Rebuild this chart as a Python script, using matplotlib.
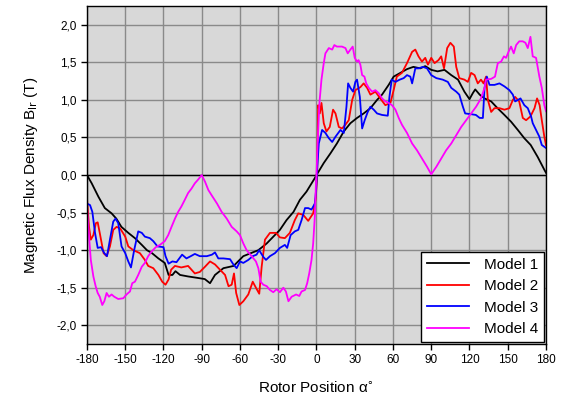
import numpy as np
import matplotlib
matplotlib.use("Agg")
import matplotlib.pyplot as plt

plt.rcParams['font.family'] = ['Liberation Sans', 'DejaVu Sans']

# Model 1
m1_angle = [-180, -176.3, -171, -166, -160.7, -157, -153, -147.6, -142.4, -137,
            -133, -129, -124, -119, -116, -113, -110.6, -107, -100.7, -93,
            -87.6, -83.5, -79.6, -73, -65, -57.4, -45.6, -39, -28.7, -23.5,
            -18, -13, -7.8, -1.3,
            0, 5.7, 11, 16, 21.4, 26.6, 31.8, 37, 42.3, 47.5,
            51.4, 56.6, 60.5, 65.8, 71, 76, 81.4, 85.3, 90, 95,
            100.4, 105.7, 111, 116, 120, 122.6, 124.5, 128, 131.8, 137,
            142, 147.4, 152.6, 157.9, 163, 168, 173.5, 178.7, 180]
m1_flux = [0, -0.11, -0.29, -0.44, -0.51, -0.58, -0.69, -0.77, -0.84, -0.93,
           -1.0, -1.04, -1.11, -1.17, -1.33, -1.33, -1.28, -1.33, -1.35, -1.37,
           -1.385, -1.44, -1.33, -1.24, -1.21, -1.08, -1.0, -0.91, -0.73, -0.60,
           -0.49, -0.33, -0.22, -0.04,
           0, 0.16, 0.29, 0.42, 0.58, 0.69, 0.76, 0.82, 0.89, 1.0,
           1.07, 1.2, 1.31, 1.36, 1.41, 1.44, 1.42, 1.45, 1.40, 1.38,
           1.40, 1.33, 1.27, 1.11, 1.01, 1.09, 1.14, 1.07, 1.02, 0.98,
           0.89, 0.80, 0.71, 0.60, 0.49, 0.40, 0.24, 0.07, 0.03]

# Model 2
m2_angle = [-180, -178.4, -177, -175, -173, -171.6, -170, -167, -164.6, -162,
            -159.4, -156.8, -154, -150, -147.6, -143.7, -138.5, -134.6, -132, -128,
            -124, -121, -118.4, -116, -114, -111, -106, -100.7, -95.4, -91.5,
            -87.4, -83.5, -79.6, -75.7, -71.7, -69, -66.5, -64.7, -63, -60.5,
            -57.4, -53.5, -50, -47.5, -44.9, -43, -40.4, -36.5, -31.8, -28.7,
            -24.8, -20.9, -17, -14.3, -10.4, -6.5, -2.6, -0.5, 0.5, 1.3,
            2.6, 3.9, 5.7, 7.8, 10.4, 13, 14.9, 17.5, 20, 22.7,
            25.3, 28, 30.5, 34.4, 37, 39.7, 42.3, 46.2, 50, 54,
            58, 60.5, 63, 67, 71, 75, 77.5, 80, 82.7, 85.3,
            87.4, 90, 92.6, 95.7, 97.8, 100, 102.5, 105, 107.7, 109.6,
            112, 116, 118.7, 121.3, 124, 126.5, 129, 131, 133, 134.4,
            137, 139.6, 143.5, 147.4, 151.3, 154, 155.8, 159, 161.8, 164.4,
            167.8, 171, 173, 175, 176.7, 178.7, 180]
m2_flux = [-0.31, -0.69, -0.86, -0.80, -0.64, -0.63, -0.77, -1.04, -1.08, -0.95,
           -0.73, -0.69, -0.71, -0.82, -0.95, -1.0, -1.04, -1.13, -1.21, -1.24,
           -1.33, -1.42, -1.46, -1.39, -1.26, -1.21, -1.23, -1.21, -1.31, -1.29,
           -1.22, -1.15, -1.19, -1.26, -1.33, -1.48, -1.46, -1.31, -1.57, -1.73,
           -1.68, -1.59, -1.42, -1.50, -1.58, -1.22, -0.86, -0.77, -0.77, -0.83,
           -0.84, -0.77, -0.60, -0.51, -0.53, -0.61, -0.51, -0.30, 0.0, 0.93,
           0.82, 0.96, 0.69, 0.58, 0.64, 0.87, 0.82, 0.64, 0.62, 0.67,
           0.73, 1.0, 1.13, 1.17, 1.22, 1.16, 1.07, 1.11, 1.02, 0.93,
           0.96, 1.13, 1.31, 1.36, 1.49, 1.64, 1.67, 1.58, 1.51, 1.56,
           1.47, 1.56, 1.49, 1.53, 1.58, 1.42, 1.69, 1.76, 1.71, 1.44,
           1.29, 1.27, 1.24, 1.36, 1.33, 1.22, 1.27, 1.22, 1.31, 1.0,
           0.84, 0.89, 0.89, 0.87, 0.89, 1.0, 1.04, 0.98, 0.76, 0.73,
           0.78, 0.89, 1.02, 0.93, 0.73, 0.51, 0.40]

# Model 3
m3_angle = [-180, -177.6, -175.8, -173.7, -171.6, -169, -166.4, -164.3, -162, -159.4,
            -157.6, -155.5, -152.9, -150, -147.6, -145.5, -143, -139.8, -137, -134.6,
            -130.7, -128, -124.7, -120, -118.4, -116, -113, -109.8, -105.4, -102,
            -98.6, -95.4, -91.5, -86, -82, -79.6, -77, -73, -67.8, -65.2,
            -62.6, -60, -57.4, -53.5, -50, -47, -45, -41.7, -39.6, -36.5,
            -32.6, -28.7, -24.8, -23, -20.3, -17, -14.3, -11.7, -9, -6.5,
            -3.9, -1.3, -0.3, 0.5, 1.8, 4.4, 7, 9.7, 12.3, 14.9,
            18.8, 21.4, 23.5, 24.8, 26.6, 28.7, 30.5, 31.8, 34, 35.8,
            37.8, 40.2, 42.3, 44.9, 47.5, 51.4, 55.9, 57.2, 59, 61.9,
            65.3, 68.4, 71, 73.6, 75, 77.5, 80, 83.5, 86.7, 90,
            94, 99, 103, 105.7, 109.6, 112, 114.8, 116.6, 121.3, 125,
            128, 130.5, 131.8, 133.6, 135.7, 139.6, 143.5, 147.4, 151.3, 154,
            155.8, 158, 160, 163, 165.7, 168.3, 169.6, 172.2, 174.8, 176.7,
            180]
m3_flux = [-0.38, -0.40, -0.49, -0.77, -0.97, -0.96, -1.04, -1.08, -0.86, -0.62,
           -0.58, -0.64, -0.95, -1.04, -1.15, -1.23, -1.0, -0.75, -0.77, -0.82,
           -0.84, -0.88, -0.95, -0.96, -1.08, -1.18, -1.15, -1.16, -1.06, -1.11,
           -1.08, -1.05, -1.08, -1.08, -1.06, -1.03, -1.11, -1.11, -1.12, -1.19,
           -1.24, -1.15, -1.17, -1.13, -1.08, -1.06, -1.0, -1.09, -1.13, -1.08,
           -1.04, -0.97, -0.93, -0.97, -0.80, -0.75, -0.73, -0.60, -0.44, -0.44,
           -0.46, -0.38, -0.20, 0.07, 0.42, 0.60, 0.56, 0.49, 0.44, 0.51,
           0.60, 0.56, 0.91, 1.22, 1.16, 1.11, 1.24, 1.27, 1.04, 0.62,
           0.73, 0.84, 0.91, 0.87, 0.82, 0.80, 0.79, 1.04, 1.27, 1.24,
           1.27, 1.29, 1.33, 1.31, 1.22, 1.42, 1.42, 1.44, 1.42, 1.33,
           1.29, 1.27, 1.24, 1.16, 1.11, 1.07, 0.91, 0.82, 0.81, 0.80,
           0.76, 0.76, 1.16, 1.31, 1.20, 1.20, 1.22, 1.18, 1.13, 1.07,
           0.98, 1.0, 1.02, 0.93, 0.89, 0.78, 0.69, 0.60, 0.51, 0.40,
           0.36]

# Model 4
m4_angle = [-180, -178.4, -177, -175, -173.2, -171.6, -170, -168, -166.4, -164.6,
            -162.8, -160.7, -158.6, -155.5, -151.5, -149, -146.3, -144.5, -142.4, -139.8,
            -137, -134.6, -132, -129.4, -126, -122.8, -119, -116.3, -113.7, -111,
            -108.5, -106, -103.3, -100.7, -98, -95.4, -92.8, -90, -87.4, -84.8,
            -82.2, -78, -74.4, -70.4, -66.5, -62.6, -60, -57.4, -54.8, -50.9,
            -47.5, -45.6, -43.8, -41.7, -39, -36.5, -33.9, -31.3, -28.7, -26,
            -24, -22, -19.5, -16, -13.5, -11.7, -9, -7.3, -5.7, -3.9,
            -2.6, -1.3, -0.5, 0.2, 1, 2.3, 3.9, 5.7, 7, 9.7,
            12.3, 14, 16, 20, 22.7, 24.5, 26.6, 28.4, 30, 31.8,
            33, 34.4, 35.8, 37.6, 39, 41, 43.6, 46.2, 48.8, 51.4,
            54, 56.6, 59.2, 61.9, 64.5, 67, 71, 75, 78.8, 82.7,
            86.7, 90, 94, 97.8, 101.7, 105.7, 109.6, 113.5, 117.4, 121.3,
            125.2, 129, 131.8, 133, 137, 140, 142.2, 144.8, 147, 148.7,
            150.6, 152.6, 154.7, 156.6, 159, 161.8, 163.9, 165.7, 167.8, 169.6,
            172.2, 174.8, 176.7, 178.7, 180]
m4_flux = [-0.42, -0.82, -1.13, -1.35, -1.48, -1.57, -1.62, -1.73, -1.68, -1.57,
           -1.62, -1.59, -1.62, -1.65, -1.64, -1.59, -1.55, -1.44, -1.42, -1.33,
           -1.22, -1.17, -1.08, -1.02, -0.96, -0.93, -0.88, -0.80, -0.69, -0.58,
           -0.49, -0.42, -0.33, -0.24, -0.18, -0.11, -0.06, 0.0, -0.09, -0.20,
           -0.27, -0.38, -0.49, -0.58, -0.69, -0.75, -0.80, -0.91, -1.0, -1.08,
           -1.15, -1.24, -1.42, -1.46, -1.48, -1.53, -1.56, -1.52, -1.56, -1.50,
           -1.55, -1.68, -1.62, -1.59, -1.61, -1.55, -1.53, -1.44, -1.31, -1.13,
           -0.91, -0.55, -0.15, 0.10, 0.47, 0.96, 1.27, 1.49, 1.62, 1.69,
           1.67, 1.73, 1.71, 1.71, 1.69, 1.62, 1.67, 1.71, 1.56, 1.51,
           1.53, 1.47, 1.33, 1.31, 1.22, 1.16, 1.11, 1.13, 1.09, 1.02,
           0.98, 0.96, 0.93, 0.87, 0.76, 0.67, 0.56, 0.42, 0.33, 0.22,
           0.11, 0.01, 0.11, 0.22, 0.33, 0.42, 0.53, 0.64, 0.73, 0.82,
           0.91, 1.02, 1.16, 1.27, 1.28, 1.31, 1.49, 1.51, 1.58, 1.56,
           1.64, 1.71, 1.62, 1.73, 1.78, 1.78, 1.76, 1.69, 1.84, 1.58,
           1.56, 1.31, 1.16, 0.93, 0.85]

x_ticks = [-180, -150, -120, -90, -60, -30, 0, 30, 60, 90, 120, 150, 180]
y_ticks = [-2.0, -1.5, -1.0, -0.5, 0.0, 0.5, 1.0, 1.5, 2.0]
y_tick_labels = ['-2,0', '-1,5', '-1,0', '-0,5', '0,0', '0,5', '1,0', '1,5', '2,0']

series = [
    ('Model 1', m1_angle, m1_flux, 'black'),
    ('Model 2', m2_angle, m2_flux, '#ff0000'),
    ('Model 3', m3_angle, m3_flux, '#0000ff'),
    ('Model 4', m4_angle, m4_flux, '#ff00ff'),
]

fig = plt.figure(figsize=(5.63, 4.01), dpi=100)
ax = fig.add_axes([0.1545, 0.142, 0.8153, 0.843])
ax.set_facecolor('#d8d8d8')

# grid at major ticks, zero line in black
ax.grid(True, color='#8a8a8a', linewidth=1.0, zorder=0)
ax.set_axisbelow(True)
ax.axhline(0, color='black', linewidth=1.0, zorder=1)

for name, ang, flux, col in series:
    assert len(ang) == len(flux), name
    ax.plot(np.array(ang), np.array(flux), color=col, linewidth=1.3, label=name, zorder=2)

ax.set_xlim(-180, 180)
ax.set_ylim(-2.25, 2.25)
ax.set_xticks(x_ticks)
ax.set_xticklabels([str(t) for t in x_ticks])
ax.set_yticks(y_ticks)
ax.set_yticklabels(y_tick_labels)
ax.tick_params(direction='out', length=4, width=1, labelsize=8.5, colors='black')

for sp in ax.spines.values():
    sp.set_color('black')
    sp.set_linewidth(1.0)

ax.set_xlabel('Rotor Position α$^{\\circ}$', fontsize=11, labelpad=10)
ax.set_ylabel(r'Magnetic Flux Density B$_{\mathrm{lr}}$ (T)', fontsize=11, labelpad=12)

leg = ax.legend(loc='lower right', fontsize=11, frameon=True, fancybox=False,
                edgecolor='black', framealpha=1.0, handlelength=2.75,
                borderaxespad=0.15, labelspacing=0.5, borderpad=0.35,
                handletextpad=1.0)
leg.get_frame().set_linewidth(1.0)

fig.savefig('out.png', dpi=100)
